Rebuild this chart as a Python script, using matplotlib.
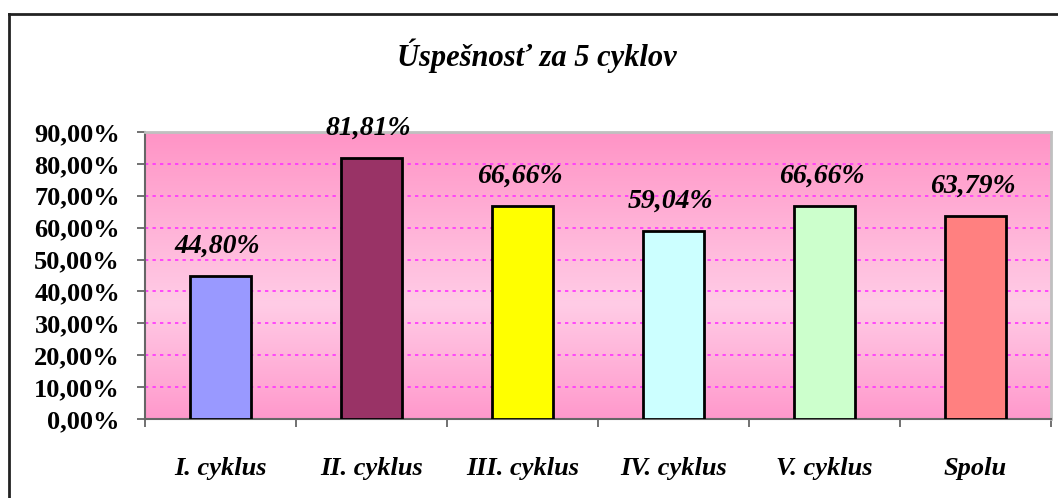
import numpy as np
import matplotlib.pyplot as plt
from matplotlib.colors import LinearSegmentedColormap
from matplotlib.lines import Line2D
from matplotlib.ticker import MultipleLocator, FuncFormatter

# data
categories = ['I. cyklus', 'II. cyklus', 'III. cyklus', 'IV. cyklus', 'V. cyklus', 'Spolu']
values = [0.4480, 0.8181, 0.6666, 0.5904, 0.6666, 0.6379]
labels = ['44,80%', '81,81%', '66,66%', '59,04%', '66,66%', '63,79%']
colors = ['#9999FF', '#993366', '#FFFF00', '#CCFFFF', '#CCFFCC', '#FF8080']
title = 'Úspešnosť za 5 cyklov'

plt.rcParams['font.family'] = ['Liberation Serif', 'DejaVu Serif']

fig = plt.figure(figsize=(10.58, 4.98), dpi=100)
fig.patch.set_facecolor('white')

# outer chart border (only top and left edges are visible in the crop)
bx, by = 8.5 / 1058, 1 - 14.5 / 498
fig.lines.append(Line2D([bx, 1.0], [by, by], transform=fig.transFigure,
                        color='#222222', linewidth=2))
fig.lines.append(Line2D([bx, bx], [0.0, by], transform=fig.transFigure,
                        color='#222222', linewidth=2))

ax = fig.add_axes([145 / 1058, 1 - 419 / 498, (1051 - 145) / 1058, (419 - 132) / 498])

x = np.arange(len(categories))
ax.set_xlim(-0.5, len(categories) - 0.5)
ax.set_ylim(0, 0.9)

# pink vertical gradient background
grad = LinearSegmentedColormap.from_list(
    'pinkgrad', [(0.0, '#FF99CC'), (0.4, '#FFCCE6'), (1.0, '#FF94C6')])
ax.imshow(np.linspace(0, 1, 256).reshape(-1, 1), cmap=grad, aspect='auto',
          extent=(-0.5, len(categories) - 0.5, 0, 0.9), origin='lower', zorder=0)

# gridlines
for yv in np.arange(0.1, 0.85, 0.1):
    ax.axhline(yv, color='#FF33FF', linestyle=(0, (2, 2.5)), linewidth=1.2, zorder=1)

ax.bar(x, values, width=0.41, color=colors, edgecolor='black', linewidth=2, zorder=3)

for xi, v, lab in zip(x, values, labels):
    ax.annotate(lab, (xi, v), xytext=(-2, 21.5), textcoords='offset points',
                ha='center', va='center', fontsize=20, fontweight='bold',
                fontstyle='italic', annotation_clip=False, zorder=4)

# axes styling
for side in ['top', 'right']:
    ax.spines[side].set_color('#C0C0C0')
    ax.spines[side].set_linewidth(2)
for side in ['left', 'bottom']:
    ax.spines[side].set_color('#666666')
    ax.spines[side].set_linewidth(1.5)

ax.yaxis.set_major_locator(MultipleLocator(0.1))
ax.yaxis.set_major_formatter(FuncFormatter(lambda v, p: f'{v * 100:.2f}%'.replace('.', ',')))
ax.tick_params(axis='y', direction='out', length=6, width=1.3, color='#666666', pad=12)
for t in ax.get_yticklabels():
    t.set_fontsize(19)
    t.set_fontweight('bold')

ax.set_xticks(x)
ax.set_xticklabels(categories, fontsize=19, fontweight='bold', fontstyle='italic')
ax.set_xticks(np.arange(-0.5, len(categories), 1), minor=True)
ax.tick_params(axis='x', which='major', length=0, pad=27)
ax.tick_params(axis='x', which='minor', direction='out', length=6, width=1.3, color='#666666')

fig.text(537 / 1058, 1 - 56 / 498, title, ha='center', va='center',
         fontsize=22, fontweight='bold', fontstyle='italic')

plt.savefig('out.png', dpi=100)
